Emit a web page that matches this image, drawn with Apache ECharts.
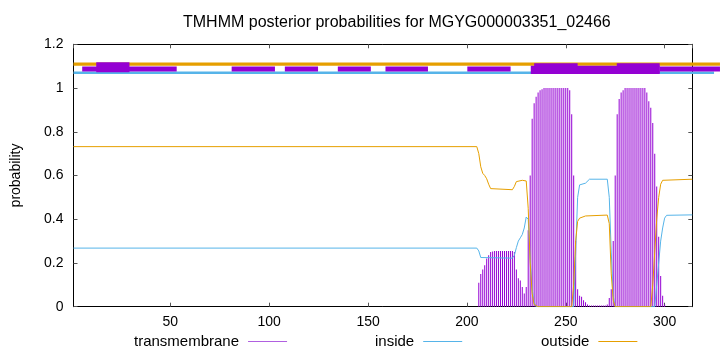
<!DOCTYPE html>
<html>
<head>
<meta charset="utf-8">
<script src="https://cdn.jsdelivr.net/npm/echarts@6/dist/echarts.min.js"></script>
<style>
  html, body { margin: 0; padding: 0; background: #fff; }
  #chart { width: 720px; height: 352px; }
</style>
</head>
<body>
<div id="chart"></div>
<script>
(function(){
  // transmembrane posterior, one value per residue starting at tmStart
  const tmStart = 206;
  const tmVals = [
    0.11, 0.15, 0.17, 0.19, 0.22, 0.235, 0.25, 0.253, 0.255, 0.255,
    0.255, 0.255, 0.255, 0.255, 0.255, 0.255, 0.255, 0.255, 0.25, 0.17,
    0.13, 0.12, 0.09, 0.06, 0.09, 0.35, 0.6, 0.86, 0.93, 0.96,
    0.98, 0.99, 0.995, 1, 1, 1, 1, 1, 1, 1,
    1, 1, 1, 1, 1, 1, 0.99, 0.88, 0.6, 0.3,
    0.08, 0.05, 0.045, 0.03, 0.02, 0.01, 0.005, 0.005, 0.005, 0.005,
    0.005, 0.005, 0.005, 0.005, 0.005, 0.01, 0.04, 0.08, 0.3, 0.6,
    0.88, 0.95, 0.98, 0.99, 1, 1, 1, 1, 1, 1,
    1, 1, 1, 1, 1, 0.98, 0.94, 0.91, 0.84, 0.7,
    0.55, 0.32, 0.14, 0.05, 0.01
  ];

  // inside / outside posterior, [residue, probability]
  const inside = [
    [1,0.268],[205,0.268],[206,0.255],[207,0.225],[208,0.222],[223,0.222],[224,0.235],
    [225,0.27],[226,0.3],[227,0.315],[228,0.33],[229,0.36],[230,0.41],[231,0.4],
    [232,0.22],[233,0.08],[234,0.02],[235,0],[254,0],[255,0.25],[256,0.5],[257,0.557],
    [260,0.565],[262,0.583],[271,0.583],[272,0.5],[273,0.25],[274,0.05],[275,0],
    [295,0],[296,0.1],[297,0.2],[298,0.3],[299,0.36],[300,0.405],[301,0.418],[314,0.42]
  ];
  const outside = [
    [1,0.732],[205,0.732],[206,0.7],[207,0.64],[208,0.61],[209,0.6],[210,0.585],
    [211,0.56],[212,0.54],[213,0.535],[223,0.535],[224,0.55],[225,0.572],[228,0.578],
    [229,0.583],[230,0.575],[231,0.45],[232,0.2],[233,0.06],[234,0.01],[236,0],
    [253,0],[254,0.1],[255,0.3],[256,0.39],[257,0.405],[260,0.415],[271,0.419],
    [272,0.38],[273,0.15],[274,0.03],[275,0],[293,0],[294,0.1],[295,0.25],[296,0.4],
    [297,0.5],[298,0.56],[299,0.578],[300,0.583],[314,0.583]
  ];

  // topology band above the plot: [from, to, y]
  const bandOutside = [[1, 328, 1.109]];
  const bandInside  = [[1, 325, 1.070]];
  const bandTmThin  = [[5.4,53.2,1.087],[81,102.9,1.087],[107.9,124.7,1.087],[134.7,151.4,1.087],
                       [158.8,180.3,1.087],[200.2,222.1,1.087],[297.5,328,1.087]];
  const bandTmWide  = [[232.3, 297.5, 1.083]];
  const bandTmBox   = [[12.5,29.3,1.095],[234,256,1.090],[275.8,297.5,1.090]];

  const title = 'TMHMM posterior probabilities for MGYG000003351_02466';
  const font = 'Liberation Sans';
  const PURPLE = '#9400d3', BLUE = '#56b4e9', ORANGE = '#e69f00';

  const tmData = tmVals.map((v, i) => [tmStart + i, v]);

  function band(data, color, h){
    return {
      type: 'custom', data, clip: false, silent: true,
      encode: { x: [0, 1], y: 2 },
      renderItem(params, api){
        const a = api.coord([api.value(0), api.value(2)]);
        const b = api.coord([api.value(1), api.value(2)]);
        return { type: 'rect', shape: { x: a[0], y: a[1] - h/2, width: b[0] - a[0], height: h },
                 style: { fill: color } };
      }
    };
  }

  function legend(name, left, color){
    return {
      data: [{ name, icon: 'rect', itemStyle: { color, borderColor: color, borderWidth: 0 } }],
      left, top: 334, padding: 0,
      align: 'right', itemWidth: 39, itemHeight: 1, selectedMode: false,
      textStyle: { fontFamily: font, fontSize: 15, color: '#000', padding: [0, 4, 0, 0] }
    };
  }

  const tick = { inside: true, length: 4, lineStyle: { color: '#555' } };
  const line = { show: true, onZero: false, lineStyle: { color: '#000', width: 1 } };

  const chart = echarts.init(document.getElementById('chart'), null, { renderer: 'canvas' });
  chart.setOption({
    animation: false,
    backgroundColor: '#fff',
    title: { text: title, left: 178, top: 10,
             textStyle: { fontFamily: font, fontSize: 16, fontWeight: 'normal', color: '#000' } },
    legend: [ legend('transmembrane', 134, '#b060e0'), legend('inside', 375, BLUE), legend('outside', 541, ORANGE) ],
    grid: { left: 73.5, right: 27.7, top: 44.3, bottom: 45.3 },
    xAxis: [
      { type: 'value', min: 1, max: 314, position: 'bottom', axisLine: line, axisTick: tick,
        splitLine: { show: false },
        axisLabel: { showMinLabel: false, showMaxLabel: false, fontFamily: font, fontSize: 14, color: '#000', margin: 8 } },
      { type: 'value', min: 1, max: 314, position: 'top', axisLine: line, axisTick: tick,
        splitLine: { show: false }, axisLabel: { show: false } }
    ],
    yAxis: [
      { type: 'value', min: 0, max: 1.2, interval: 0.2, position: 'left', axisLine: line,
        axisTick: tick, splitLine: { show: false },
        axisLabel: { fontFamily: font, fontSize: 14, color: '#000', margin: 10 },
        name: 'probability', nameLocation: 'middle', nameGap: 50,
        nameTextStyle: { fontFamily: font, fontSize: 14, color: '#000' } },
      { type: 'value', min: 0, max: 1.2, interval: 0.2, position: 'right', axisLine: line,
        axisTick: tick, splitLine: { show: false }, axisLabel: { show: false } }
    ],
    series: [
      { name: 'transmembrane', type: 'bar', data: tmData, barWidth: 1,
        itemStyle: { color: PURPLE, borderColor: PURPLE, borderWidth: 0 } },
      { name: 'inside', type: 'line', data: inside, showSymbol: false, symbol: 'none',
        itemStyle: { color: BLUE }, lineStyle: { color: BLUE, width: 1 } },
      { name: 'outside', type: 'line', data: outside, showSymbol: false, symbol: 'none',
        itemStyle: { color: ORANGE }, lineStyle: { color: ORANGE, width: 1 } },
      band(bandOutside, ORANGE, 3.3),
      band(bandInside, BLUE, 2.7),
      band(bandTmThin, PURPLE, 5),
      band(bandTmWide, PURPLE, 8.3),
      band(bandTmBox, PURPLE, 10)
    ]
  });
})();
</script>
</body>
</html>
